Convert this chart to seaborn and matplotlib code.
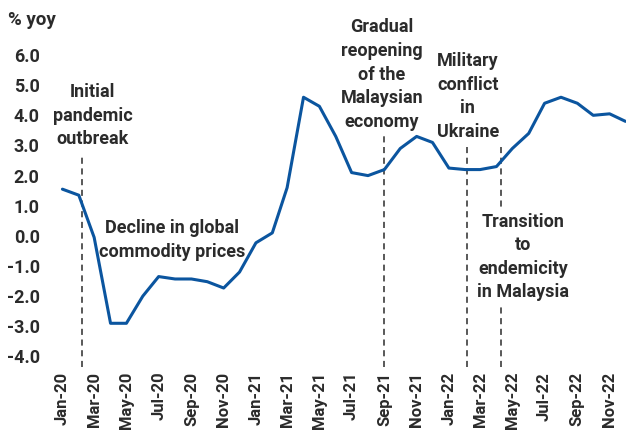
import pandas as pd
import seaborn as sns
import matplotlib.pyplot as plt
import matplotlib.dates as mdates

# monthly headline inflation, % yoy
months = pd.date_range('2020-01-01', '2022-12-01', freq='MS')
cpi = [1.55, 1.35, -0.05, -2.9, -2.9, -2.0, -1.35, -1.43, -1.43, -1.52, -1.73, -1.2,
       -0.23, 0.1, 1.6, 4.6, 4.3, 3.3, 2.1, 2.0, 2.2, 2.9, 3.3, 3.1,
       2.25, 2.2, 2.2, 2.3, 2.9, 3.4, 4.4, 4.6, 4.4, 4.0, 4.05, 3.8]

# events: date of dashed line, top of the line, label, label position
event_dates = pd.to_datetime(['2020-02-07', '2021-09-01', '2022-02-05', '2022-04-09'])
event_tops = [2.62, 3.45, 3.0, 2.95]
labels = ['Initial\npandemic\noutbreak',
          'Decline in global\ncommodity prices',
          'Gradual\nreopening\nof the\nMalaysian\neconomy',
          'Military\nconflict\nin\nUkraine',
          'Transition\nto\nendemicity\nin Malaysia']
label_dates = pd.to_datetime(['2020-02-27', '2020-07-27', '2021-08-27', '2022-02-06', '2022-05-22'])
label_vals = [3.99, -0.13, 5.35, 4.62, -0.70]

df = pd.DataFrame({'month': months, 'cpi': cpi})

sns.set_style('white')
plt.rcParams['font.family'] = ['Roboto', 'DejaVu Sans']
txt = '#2b2b2b'

fig = plt.figure(figsize=(6.26, 4.34), dpi=100)
ax = fig.add_axes([0.0879, 0.1544, 0.9121, 0.7396])

for d, top in zip(event_dates, event_tops):
    ax.plot([d, d], [-4.35, top], color=txt, lw=1.1, ls=(0, (4, 3)), zorder=1)

sns.lineplot(data=df, x='month', y='cpi', color='#0b559f', lw=2.2, ax=ax, zorder=3)

for lab, d, v in zip(labels, label_dates, label_vals):
    bg = dict(facecolor='white', edgecolor='none', pad=1) if lab.startswith('Transition') else None
    ax.text(d, v, lab, ha='center', va='center', fontsize=13, fontweight='bold',
            color=txt, linespacing=1.4, bbox=bg, zorder=2)

ax.set_ylim(-4.35, 6.3)
ax.set_yticks(range(-4, 7))
ax.set_yticklabels([f'{t:.1f}' for t in range(-4, 7)])
ax.set_xlim(pd.Timestamp('2019-12-18'), pd.Timestamp('2022-12-02'))
ax.xaxis.set_major_locator(mdates.MonthLocator(bymonth=[1, 3, 5, 7, 9, 11]))
ax.xaxis.set_major_formatter(mdates.DateFormatter('%b-%y'))
ax.tick_params(axis='x', length=0, labelsize=12, labelcolor=txt)
ax.tick_params(axis='y', length=0, labelsize=13, labelcolor=txt, pad=11)
for lab in ax.get_xticklabels():
    lab.set_rotation(90)
    lab.set_fontweight('bold')
for lab in ax.get_yticklabels():
    lab.set_fontweight('bold')
ax.set_xlabel('')
ax.set_ylabel('')
sns.despine(ax=ax, left=True, bottom=True)

fig.text(0.012, 0.955, '% yoy', fontsize=13.5, fontweight='bold', color=txt, va='center')

fig.savefig('out.png', dpi=100)
